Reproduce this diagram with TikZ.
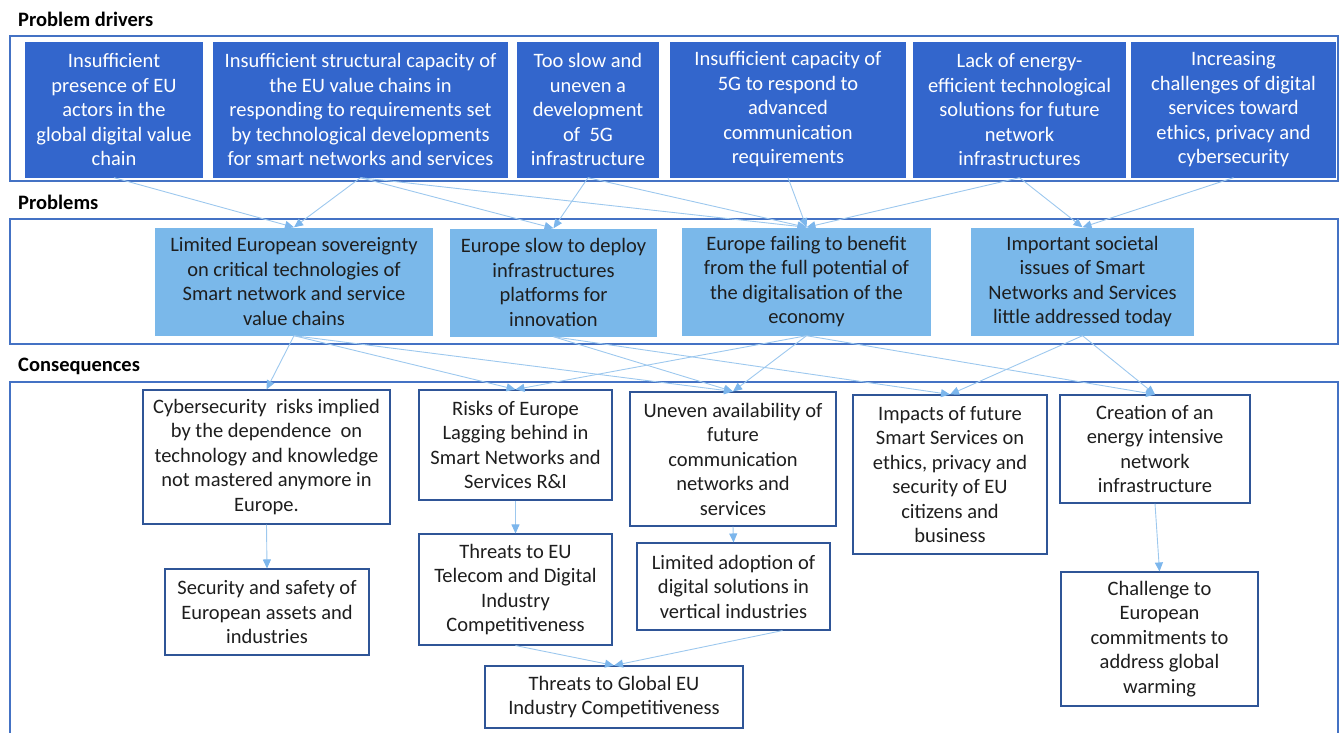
\documentclass[tikz,border=0pt]{standalone}
\usepackage{fontspec}
\setmainfont{Carlito}
\usetikzlibrary{arrows.meta}
\definecolor{drvfill}{HTML}{3366CC}
\definecolor{prbfill}{HTML}{7AB8EA}
\definecolor{frame}{HTML}{4472C4}
\definecolor{cnsline}{HTML}{2F5597}
\definecolor{arrline}{HTML}{9DC8EE}
\definecolor{arrhead}{HTML}{7CB6EC}
\definecolor{darktext}{HTML}{1E1E1E}
\begin{document}
\begin{tikzpicture}[x=1pt,y=-1pt,
  every node/.style={font=\fontsize{20.5}{24.5}\selectfont, inner sep=0pt},
  heading/.style={anchor=west, font=\fontsize{20.5}{24.5}\selectfont\bfseries},
  group/.style={draw=frame, line width=1.4pt},
  size/.style 2 args={minimum width=#1pt, minimum height=#2pt},
  drv/.style={fill=drvfill, text=white, align=center},
  prb/.style={fill=prbfill, text=darktext, align=center},
  cns/.style={draw=cnsline, line width=1.1pt, fill=white, text=darktext, align=center},
  arr/.style={draw=arrline, line width=0.9pt, -{Triangle[length=9pt,width=8pt,color=arrhead]}}
]
\useasboundingbox (0,0) rectangle (1343,732);

% section frames
\draw[group] (10,36) rectangle (1338,181);
\draw[group] (10,219) rectangle (1338,344);
\draw[group] (10,382) rectangle (1338,740);

% section headings
\node[heading] (hdrv) at (18,19) {Problem drivers};
\node[heading] (hprb) at (18,202) {Problems};
\node[heading] (hcns) at (18,366) {Consequences};

% problem drivers
\node[drv, size={178}{136}] (d1) at (114,109.5) {Insufficient\\presence of EU\\actors in the\\global digital value\\chain};
\node[drv, size={295}{136}] (d2) at (360.5,109.5) {Insufficient structural capacity of\\the EU value chains in\\responding to requirements set\\by technological developments\\for smart networks and services};
\node[drv, size={142}{136}] (d3) at (588,109.5) {Too slow and\\uneven a\\development\\of~ 5G\\infrastructure};
\node[drv, size={236}{136}] (d4) at (788,109.5) {Insufficient capacity of\\5G to respond to\\advanced\\communication\\requirements};
\node[drv, size={213}{136}] (d5) at (1019.5,109.5) {Lack of energy-\\efficient technological\\solutions for future\\network\\infrastructures};
\node[drv, size={205}{136}] (d6) at (1233.5,109.5) {Increasing\\challenges of digital\\services toward\\ethics, privacy and\\cybersecurity};

% problems
\node[prb, size={278}{108}] (p1) at (294,281.5) {Limited European sovereignty\\on critical technologies of\\Smart network and service\\value chains};
\node[prb, size={207}{108}] (p2) at (553.5,282.5) {Europe slow to deploy\\infrastructures\\platforms for\\innovation};
\node[prb, size={249}{108}] (p3) at (806.5,281.5) {Europe failing to benefit\\from the full potential of\\the digitalisation of the\\economy};
\node[prb, size={223}{108}] (p4) at (1082.5,281.5) {Important societal\\issues of Smart\\Networks and Services\\little addressed today};

% consequences
\node[cns, size={247}{134}] (c1) at (266.5,457) {Cybersecurity~ risks implied\\by the dependence~ on\\technology and knowledge\\not mastered anymore in\\Europe.};
\node[cns, size={193}{110}] (c2) at (515.5,445) {Risks of Europe\\Lagging behind in\\Smart Networks and\\Services R\&I};
\node[cns, size={206}{134}] (c3) at (733,459) {Uneven availability of\\future\\communication\\networks and\\services};
\node[cns, size={194}{159}] (c4) at (950,474.5) {Impacts of future\\Smart Services on\\ethics, privacy and\\security of EU\\citizens and\\business};
\node[cns, size={190}{108}] (c5) at (1155,449) {Creation of an\\energy intensive\\network\\infrastructure};
\node[cns, size={204}{86}] (c6) at (267,612) {Security and safety of\\European assets and\\industries};
\node[cns, size={193}{111}] (c7) at (515.5,589.5) {Threats to EU\\Telecom and Digital\\Industry\\Competitiveness};
\node[cns, size={193}{87}] (c8) at (733.5,586.5) {Limited adoption of\\digital solutions in\\vertical industries};
\node[cns, size={197}{134}] (c9) at (1159.5,639) {Challenge to\\European\\commitments to\\address global\\warming};
\node[cns, size={258}{62}] (c10) at (614,697) {Threats to Global EU\\Industry Competitiveness};

% drivers -> problems
\draw[arr] (d1.south) -- (p1.north);
\draw[arr] (d2.south) -- (p1.north);
\draw[arr] (d2.south) -- (p2.north);
\draw[arr] (d2.south) -- (p3.north);
\draw[arr] (d3.south) -- (p2.north);
\draw[arr] (d3.south) -- (p3.north);
\draw[arr] (d4.south) -- (p3.north);
\draw[arr] (d5.south) -- (p3.north);
\draw[arr] (d5.south) -- (p4.north);
\draw[arr] (d6.south) -- (p4.north);

% problems -> consequences
\draw[arr] (p1.south) -- (c1.north);
\draw[arr] (p1.south) -- (c2.north);
\draw[arr] (p1.south) -- (c3.north);
\draw[arr] (p2.south) -- (c3.north);
\draw[arr] (p2.south) -- (c4.north);
\draw[arr] (p3.south) -- (c2.north);
\draw[arr] (p3.south) -- (c3.north);
\draw[arr] (p3.south) -- (c5.north);
\draw[arr] (p4.south) -- (c4.north);
\draw[arr] (p4.south) -- (c5.north);

% consequence chains
\draw[arr] (c1.south) -- (c6.north);
\draw[arr] (c2.south) -- (c7.north);
\draw[arr] (c3.south) -- (c8.north);
\draw[arr] (c5.south) -- (c9.north);
\draw[arr] (c7.south) -- (c10.north);
\draw[arr] ([xshift=49pt]c8.south) -- (c10.north);
\end{tikzpicture}
\end{document}
